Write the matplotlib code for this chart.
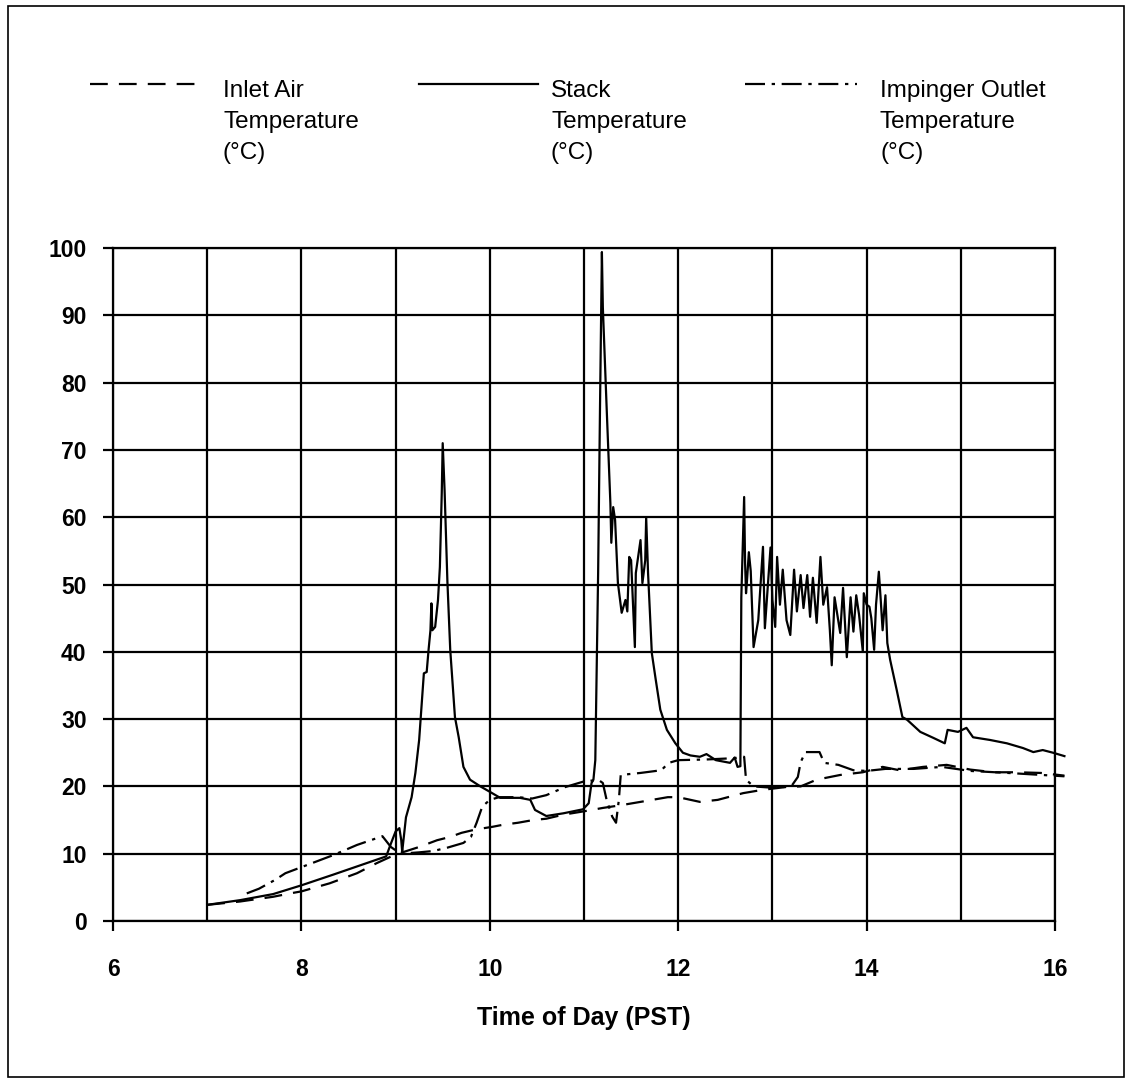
import matplotlib.pyplot as plt
from matplotlib.lines import Line2D
from matplotlib.patches import Rectangle
from matplotlib.ticker import MultipleLocator

plt.rcParams['font.family'] = ['Liberation Sans', 'DejaVu Sans']

# Stack temperature (solid line)
stack_t = [7.0, 7.35, 7.7, 8.0, 8.34, 8.65, 8.9, 8.95, 9.0, 9.04, 9.06, 9.07, 9.11, 9.17, 9.21,
           9.25, 9.28, 9.3, 9.33, 9.35, 9.37, 9.38, 9.39, 9.42, 9.45, 9.47, 9.49, 9.5, 9.52, 9.55,
           9.58, 9.63, 9.67, 9.72, 9.79, 9.9, 10.0, 10.11, 10.32, 10.43, 10.48, 10.6, 10.78, 10.99,
           11.05, 11.08, 11.1, 11.12, 11.15, 11.17, 11.19, 11.2, 11.24, 11.28, 11.29, 11.31, 11.33,
           11.36, 11.4, 11.44, 11.46, 11.48, 11.5, 11.54, 11.55, 11.6, 11.62, 11.65, 11.66, 11.68,
           11.72, 11.76, 11.81, 11.88, 11.97, 12.05, 12.13, 12.23, 12.3, 12.4, 12.55, 12.6, 12.63,
           12.66, 12.67, 12.7, 12.71, 12.72, 12.73, 12.75, 12.77, 12.8, 12.85, 12.9, 12.92, 12.95,
           12.98, 13.0, 13.03, 13.05, 13.08, 13.11, 13.15, 13.19, 13.23, 13.26, 13.3, 13.33, 13.37,
           13.4, 13.43, 13.47, 13.51, 13.54, 13.58, 13.61, 13.63, 13.66, 13.72, 13.75, 13.79, 13.83,
           13.86, 13.89, 13.92, 13.96, 13.97, 14.0, 14.03, 14.05, 14.08, 14.1, 14.13, 14.15, 14.17,
           14.2, 14.22, 14.25, 14.32, 14.38, 14.43, 14.57, 14.71, 14.83, 14.86, 14.97, 15.06, 15.13,
           15.31, 15.49, 15.66, 15.77, 15.87, 15.98, 16.1]
stack_v = [2.4, 3.1, 4.0, 5.3, 6.9, 8.4, 9.6, 11.5, 13.3, 13.8, 12.0, 10.3, 15.4, 18.4, 22.0,
           26.9, 32.8, 36.8, 37.0, 40.3, 43.2, 47.2, 43.2, 43.7, 47.7, 52.6, 63.6, 71.0, 64.0, 50.4,
           40.3, 30.3, 27.3, 22.9, 21.0, 20.0, 19.2, 18.3, 18.3, 18.0, 16.5, 15.6, 16.0, 16.6,
           17.5, 20.5, 21.0, 23.9, 51.7, 76.4, 99.4, 91.2, 76.4, 62.1, 56.2, 61.5, 59.6,
           50.2, 45.8, 47.7, 46.0, 54.1, 53.6, 40.7, 51.7, 56.6, 50.2, 53.6, 60.0, 51.7,
           39.8, 36.0, 31.4, 28.4, 26.4, 25.0, 24.6, 24.4, 24.8, 23.9, 23.5, 24.3, 22.9,
           23.0, 48.1, 63.0, 53.2, 48.7, 50.5, 54.8, 52.0, 40.7, 44.7, 55.6, 43.5, 49.6,
           55.5, 47.7, 43.7, 54.1, 47.0, 52.2, 44.7, 42.5, 52.2, 46.0, 51.4, 46.5, 51.4,
           45.2, 51.0, 44.3, 54.1, 47.0, 49.6, 43.2, 38.0, 48.1, 42.8, 49.5, 39.2, 48.1,
           43.0, 48.4, 45.5, 40.0, 48.7, 47.0, 46.7, 45.0, 40.3, 47.0, 51.9, 47.7, 43.2,
           48.4, 41.3, 38.8, 34.3, 30.3, 29.9, 28.1, 27.2, 26.4, 28.4, 28.1, 28.7, 27.3,
           26.9, 26.4, 25.7, 25.1, 25.4, 25.0, 24.5]

# Inlet air temperature (dashed line)
inlet_t = [7.0, 7.35, 7.7, 7.88, 8.0, 8.3, 8.59, 8.8, 8.94, 9.05, 9.25, 9.44, 9.58, 9.7, 9.85,
           10.03, 10.14, 10.3, 10.46, 10.6, 10.78, 11.0, 11.2, 11.39, 11.6, 11.89, 12.0, 12.23,
           12.42, 12.69, 12.9, 13.14, 13.3, 13.47, 13.72, 13.96, 14.17, 14.35, 14.6, 14.85, 15.1,
           15.35, 15.6, 15.85, 16.1]
inlet_v = [2.4, 2.9, 3.6, 4.1, 4.4, 5.6, 7.1, 8.6, 9.5, 10.1, 11.0, 12.0, 12.5, 13.1, 13.6,
           14.0, 14.3, 14.6, 15.0, 15.2, 15.8, 16.3, 16.8, 17.2, 17.7, 18.4, 18.4, 17.7,
           18.0, 19.0, 19.5, 19.9, 20.0, 21.0, 21.7, 22.1, 22.9, 22.4, 22.9, 23.2, 22.5,
           22.1, 22.1, 22.0, 21.6]

# Impinger outlet temperature (dash-dot line)
imp_t = [7.42, 7.55, 7.72, 7.83, 8.0, 8.34, 8.59, 8.86, 8.95, 9.05, 9.25, 9.4, 9.55, 9.72, 9.8,
         9.86, 9.92, 10.0, 10.1, 10.3, 10.45, 10.6, 10.8, 10.99, 11.05, 11.15, 11.2, 11.24, 11.3,
         11.34, 11.37, 11.39, 11.6, 11.82, 11.9, 12.0, 12.3, 12.6, 12.7, 12.72, 12.8, 13.0, 13.2,
         13.27, 13.3, 13.35, 13.5, 13.55, 13.7, 13.86, 14.0, 14.2, 14.5, 14.8, 15.1, 15.5, 16.1]
imp_v = [4.1, 4.8, 6.1, 7.1, 8.0, 9.8, 11.3, 12.6, 11.0, 10.0, 10.2, 10.4, 10.9, 11.6, 12.5,
         14.6, 17.0, 18.0, 18.4, 18.4, 18.2, 18.7, 19.9, 20.7, 20.8, 21.0, 20.5, 18.0, 15.5,
         14.6, 18.0, 21.7, 22.0, 22.4, 23.5, 23.9, 24.0, 24.2, 24.4, 21.0, 20.0, 19.8, 20.0,
         21.4, 23.6, 25.1, 25.1, 23.5, 23.2, 22.4, 22.3, 22.6, 22.6, 22.9, 22.3, 22.0, 21.5]

legend_labels = [["Inlet Air", "Temperature", "(°C)"],
                 ["Stack", "Temperature", "(°C)"],
                 ["Impinger Outlet", "Temperature", "(°C)"]]
x_ticks = [6, 8, 10, 12, 14, 16]
y_ticks = [0, 10, 20, 30, 40, 50, 60, 70, 80, 90, 100]

W, H = 1129, 1083
fig = plt.figure(figsize=(W / 100, H / 100), dpi=100)
ax = fig.add_axes([113 / W, 1 - 921 / H, (1055 - 113) / W, (921 - 248) / H])

dash = (0, (8, 5))
dashdot = (0, (9, 3, 1.5, 3))
lw = 1.6

ax.plot(inlet_t, inlet_v, color='black', lw=lw, linestyle=dash, clip_on=False)
ax.plot(stack_t, stack_v, color='black', lw=lw, linestyle='-', clip_on=False)
ax.plot(imp_t, imp_v, color='black', lw=lw, linestyle=dashdot, clip_on=False)

ax.set_xlim(6, 16)
ax.set_ylim(0, 100)
ax.set_xticks(x_ticks)
ax.set_yticks(y_ticks)
ax.xaxis.set_minor_locator(MultipleLocator(1))
ax.grid(True, which='both', axis='x', color='black', lw=1.6)
ax.grid(True, which='major', axis='y', color='black', lw=1.6)
ax.set_axisbelow(True)
for s in ax.spines.values():
    s.set_linewidth(1.6)
ax.tick_params(axis='x', which='major', direction='out', length=7, width=1.6, pad=20,
               labelsize=16.5)
ax.tick_params(axis='x', which='minor', length=0)
ax.tick_params(axis='y', direction='out', length=7, width=1.6, pad=12, labelsize=16.5)
for lab in ax.get_xticklabels() + ax.get_yticklabels():
    lab.set_fontweight('bold')

ax.set_xlabel('Time of Day (PST)', fontsize=18, fontweight='bold', labelpad=18)

# legend drawn at the top of the page
line_styles = [dash, '-', dashdot]
sample_x = [(90, 195), (419, 538), (745, 857)]
text_x = [223, 551, 880]
for style, (x0, x1), tx, lines in zip(line_styles, sample_x, text_x, legend_labels):
    fig.add_artist(Line2D([x0 / W, x1 / W], [1 - 84 / H, 1 - 84 / H], color='black',
                          lw=lw, linestyle=style, transform=fig.transFigure))
    for i, txt in enumerate(lines):
        fig.text(tx / W, 1 - (97 + 31 * i) / H, txt, fontsize=17.5, va='baseline', ha='left')

# page border
fig.add_artist(Rectangle((8 / W, 6 / H), (1124 - 8) / W, (1077 - 6) / H, fill=False,
                         edgecolor='black', lw=1.2, transform=fig.transFigure))

fig.savefig('out.png', dpi=100)
